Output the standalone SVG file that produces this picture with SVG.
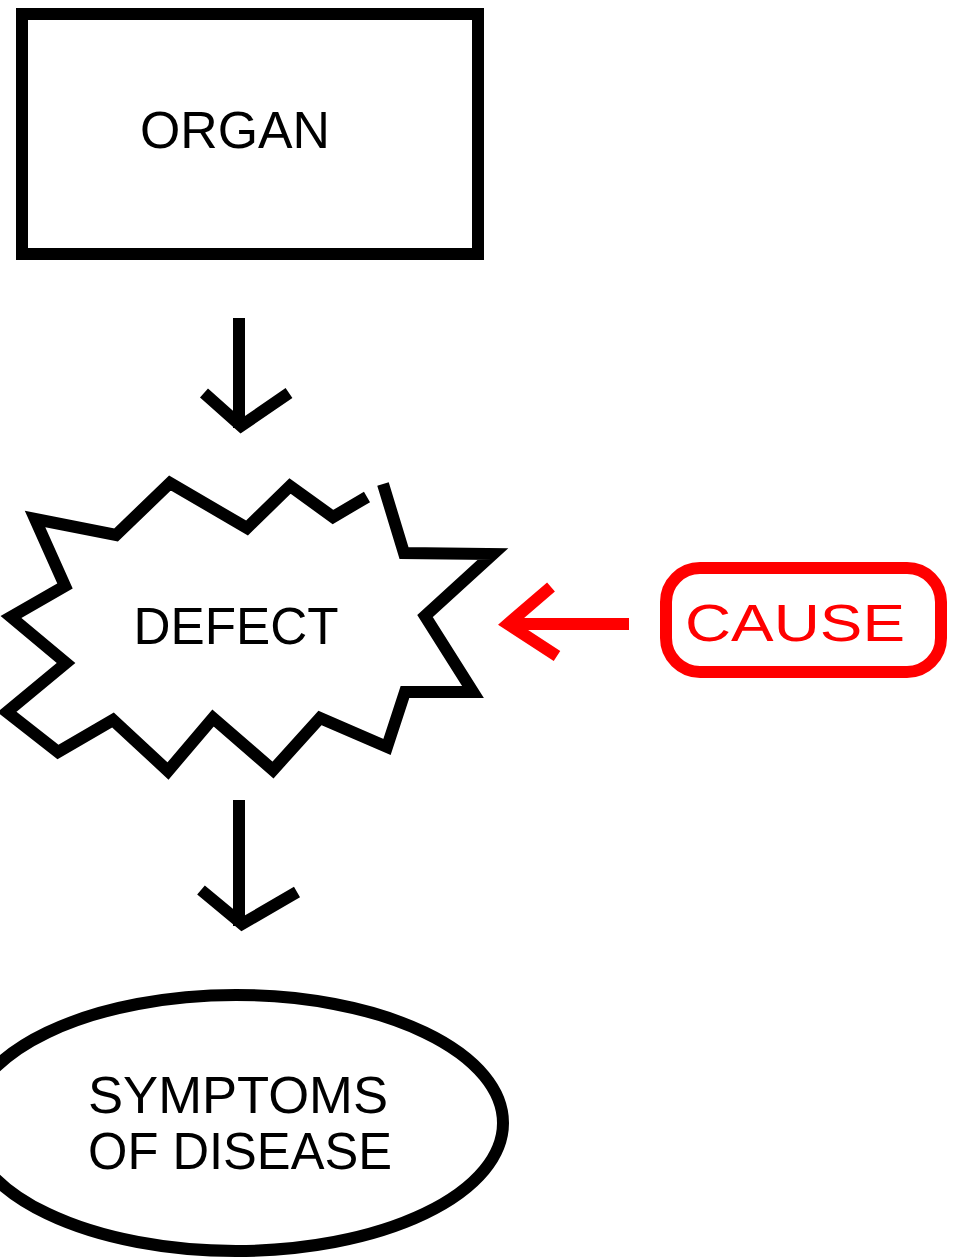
<svg xmlns="http://www.w3.org/2000/svg" width="953" height="1260" viewBox="0 0 953 1260">
<style>
.blk{fill:none;stroke:#000;stroke-width:12;stroke-linejoin:miter}
.red{fill:none;stroke:#f00;stroke-width:12}
.t{font-family:"Liberation Sans",Arial,sans-serif;font-size:52px;fill:#000;text-anchor:middle}
.tr{fill:#f00}
</style>
<rect width="953" height="1260" fill="#fff"/>
<g id="organ">
<rect class="blk" x="22" y="14" width="456" height="240"/>
<text class="t" x="235" y="148" textLength="190" lengthAdjust="spacingAndGlyphs">ORGAN</text>
</g>
<g id="defect">
<path class="blk" d="M383,484 L404,553 L493,554 L425,616 L473,692 L405,692 L387,747 L320,718 L273,770 L213,718 L168,771 L113,720 L58,752 L7,712 L66,663 L11,617 L65,586 L35,519 L116,535 L170,483 L247,528 L290,486 L333,517 L367,497"/>
<text class="t" x="236" y="644" textLength="205" lengthAdjust="spacingAndGlyphs">DEFECT</text>
</g>
<g id="cause">
<rect class="red" x="666" y="568" width="275" height="104" rx="34" ry="34"/>
<text class="t tr" x="795" y="641" font-size="55" textLength="220" lengthAdjust="spacingAndGlyphs">CAUSE</text>
</g>
<g id="symptoms">
<ellipse class="blk" cx="236" cy="1123" rx="267" ry="128"/>
<text class="t" x="238" y="1113" textLength="300" lengthAdjust="spacingAndGlyphs">SYMPTOMS</text>
<text class="t" x="240" y="1169" textLength="304" lengthAdjust="spacingAndGlyphs">OF DISEASE</text>
</g>
<g id="connectors">
<path class="blk" d="M239,318 L239,428"/>
<path class="blk" d="M204,393 L241,426 L289,393"/>
<path class="blk" d="M239,800 L239,926"/>
<path class="blk" d="M201,890 L242,924 L297,892"/>
<path class="red" d="M629,624 L506,624"/>
<path class="red" d="M551,587 L508,624 L557,656"/>
</g>
</svg>
